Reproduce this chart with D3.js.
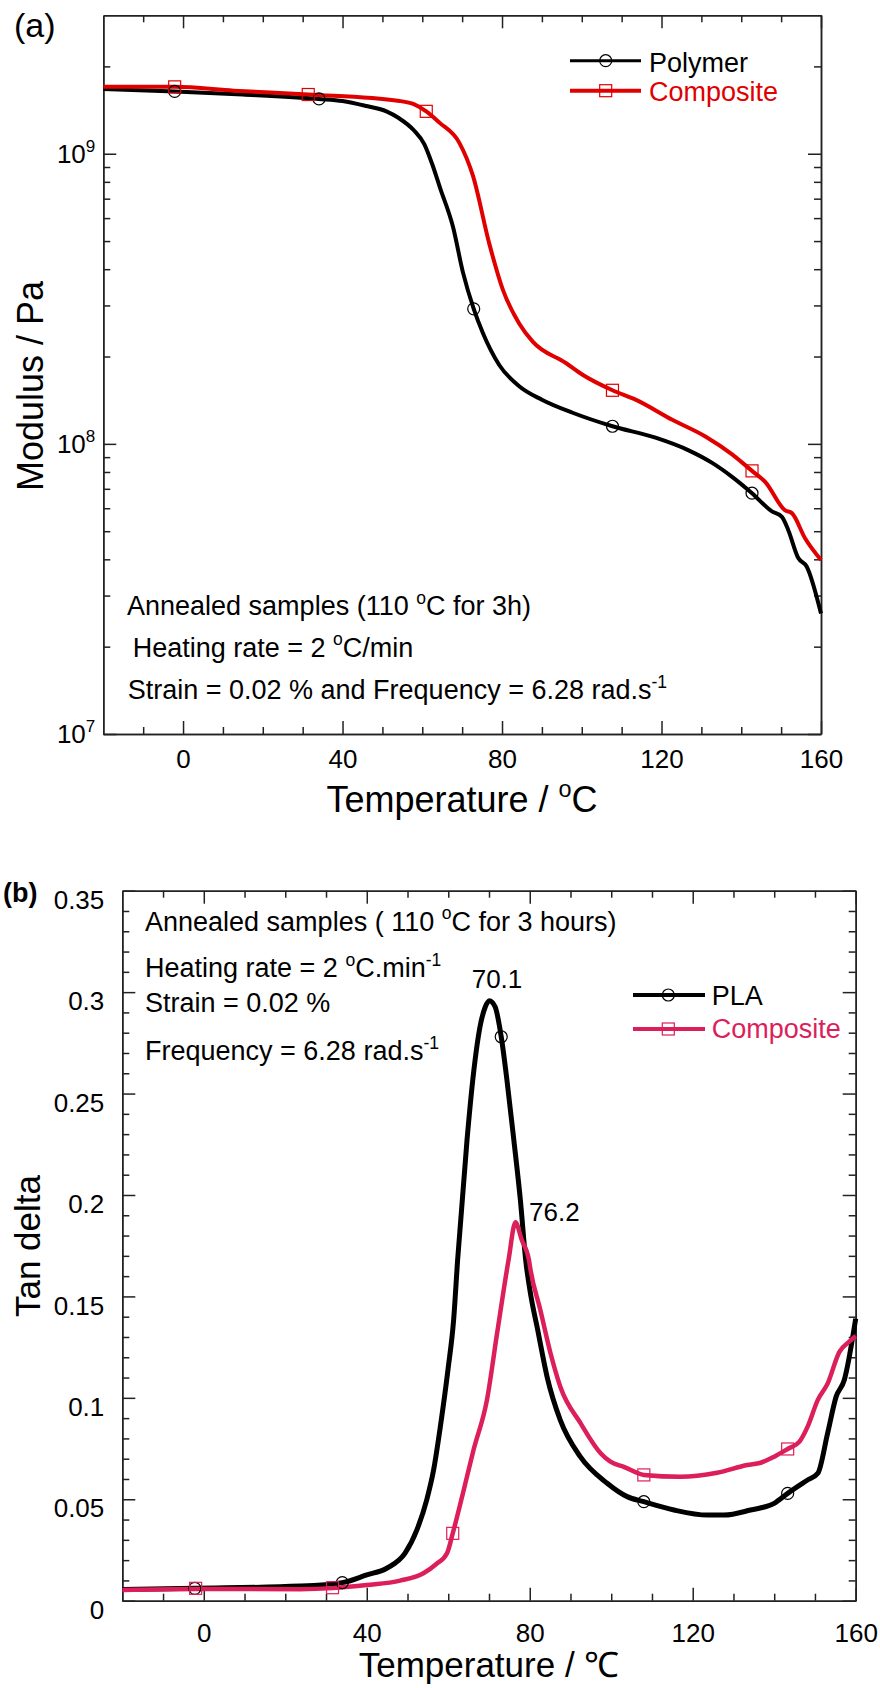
<!DOCTYPE html>
<html>
<head>
<meta charset="utf-8">
<script src="https://cdn.jsdelivr.net/npm/d3@7"></script>
<style>
  body { margin: 0; background: #fff; }
  svg { display: block; font-family: "Liberation Sans", Arial, sans-serif; }
  .axis path, .axis line { stroke: #222; stroke-width: 1.5; }
  .axis text { font-size: 26px; fill: #000; font-family: "Liberation Sans", Arial, sans-serif; }
</style>
</head>
<body>
<svg id="chart" width="880" height="1688"></svg>
<script>
// ---------- data: panel (a) storage modulus ----------
var tempTicks = [0, 40, 80, 120, 160];

var polymerT = [-20, -2, 15, 34, 40, 46, 51, 54, 58, 60.5, 62.5, 64.5, 67.7, 70.2, 72.9, 75.2, 79.3, 84.3, 90, 97.7, 107.7, 118.5, 126.8, 132.7, 137.7, 142.7, 147.7, 150.2, 151.8, 154.3, 156.4, 160];
var polymerG = [1.67e9, 1.64e9, 1.60e9, 1.545e9, 1.52e9, 1.46e9, 1.40e9, 1.33e9, 1.20e9, 1.08e9, 9.2e8, 7.6e8, 5.6e8, 3.9e8, 2.92e8, 2.41e8, 1.87e8, 1.58e8, 1.42e8, 1.28e8, 1.15e8, 1.05e8, 9.5e7, 8.6e7, 7.7e7, 6.76e7, 5.85e7, 5.6e7, 5.04e7, 4.04e7, 3.78e7, 2.6e7];

var compositeT = [-20, -2, 12.7, 31.4, 54.3, 58, 61, 64.3, 69.3, 72.7, 76.8, 80.2, 84.3, 87.7, 96, 100.2, 107.7, 113.5, 122.7, 131, 137.7, 142.7, 146, 151, 152.7, 156, 160];
var compositeG = [1.70e9, 1.70e9, 1.65e9, 1.60e9, 1.52e9, 1.48e9, 1.40e9, 1.28e9, 1.09e9, 8.4e8, 4.9e8, 3.4e8, 2.6e8, 2.25e8, 1.9e8, 1.73e8, 1.53e8, 1.42e8, 1.21e8, 1.06e8, 9.2e7, 8.07e7, 7.4e7, 5.9e7, 5.77e7, 4.73e7, 3.98e7];

var polymerMarkT = [-2.1, 34.1, 72.9, 107.7, 142.7];
var polymerMarkG = [1.64e9, 1.545e9, 2.92e8, 1.15e8, 6.76e7];
var compositeMarkT = [-2.1, 31.4, 61, 107.7, 142.7];
var compositeMarkG = [1.70e9, 1.60e9, 1.40e9, 1.53e8, 8.07e7];

// ---------- data: panel (b) tan delta ----------
var tanTicks = [0, 0.05, 0.1, 0.15, 0.2, 0.25, 0.3, 0.35];

var plaT = [-20, -2.2, 23.6, 34, 40, 44.9, 49.4, 52.3, 54.7, 56.4, 58, 60, 61.3, 62.3, 64.6, 66.2, 67.8, 69.1, 70.1, 71.5, 73, 74.4, 76.1, 77.7, 79, 80.3, 81.8, 84.3, 87.5, 92.4, 99, 103.9, 108, 115.4, 123.6, 127.7, 134.2, 140, 143.3, 148.2, 150.7, 153.1, 155.2, 157.2, 160];
var plaTan = [0.0055, 0.0061, 0.0072, 0.0089, 0.0127, 0.016, 0.0234, 0.0349, 0.0496, 0.0644, 0.085, 0.115, 0.138, 0.168, 0.227, 0.26, 0.283, 0.2928, 0.2958, 0.2928, 0.278, 0.2567, 0.227, 0.1975, 0.168, 0.15, 0.135, 0.110, 0.089, 0.071, 0.0579, 0.0513, 0.0488, 0.0447, 0.0422, 0.0422, 0.0447, 0.048, 0.0529, 0.0595, 0.0628, 0.0825, 0.1006, 0.1088, 0.139];

var compT = [-20, -2, 23.6, 31.6, 40, 48.2, 53.9, 57, 59.7, 61.1, 63.8, 66.2, 69.5, 72, 74.8, 76.5, 78, 79.8, 80.2, 82.6, 85.1, 87.5, 92.5, 97.4, 99.8, 103.1, 108, 117, 126, 133.4, 136.7, 140, 143.3, 146.2, 148.2, 150.7, 153.1, 156, 158.4, 160];
var compTan = [0.0053, 0.0058, 0.0057, 0.0062, 0.0077, 0.0099, 0.0135, 0.018, 0.0234, 0.0332, 0.0546, 0.0743, 0.099, 0.132, 0.168, 0.1865, 0.178, 0.168, 0.163, 0.1433, 0.122, 0.1055, 0.0874, 0.0727, 0.0685, 0.066, 0.062, 0.0611, 0.0631, 0.0669, 0.068, 0.071, 0.0748, 0.0784, 0.0858, 0.099, 0.107, 0.1227, 0.1277, 0.1305];

var plaMarkT = [-2.2, 34, 73, 108, 143.3];
var plaMarkTan = [0.0061, 0.0089, 0.278, 0.0488, 0.0529];
var compMarkT = [-2, 31.6, 61.1, 108, 143.3];
var compMarkTan = [0.0061, 0.0064, 0.0332, 0.062, 0.0748];

var red = "#e00000", pink = "#dc1e5a";

var svg = d3.select("#chart");

// text with superscript parts: [[string, isSup], ...]
function richText(x, y, size, parts, color, anchor) {
  var t = svg.append("text").attr("x", x).attr("y", y)
    .attr("font-size", size).attr("fill", color || "#000")
    .attr("text-anchor", anchor || "start");
  var up = 0;
  parts.forEach(function(p) {
    var s = t.append("tspan").text(p[0]);
    if (p[1] && !up) { s.attr("font-size", size * 0.65).attr("dy", -size * 0.42); up = 1; }
    else if (!p[1] && up) { s.attr("dy", size * 0.42); up = 0; }
  });
  return t;
}

// frame with inward ticks on four sides
function frame(x, y, xMinor, yMajor, yMinor, xPad, yPad) {
  var x0 = x.range()[0], x1 = x.range()[1], y0 = y.range()[0], y1 = y.range()[1];
  var g = svg.append("g");

  g.append("g").attr("class", "axis").attr("transform", "translate(0," + y0 + ")")
    .call(d3.axisBottom(x).tickValues(tempTicks).tickSizeInner(-13).tickSizeOuter(0).tickPadding(xPad));
  g.append("g").attr("class", "axis").attr("transform", "translate(0," + y0 + ")")
    .call(d3.axisBottom(x).tickValues(xMinor).tickSizeInner(-7).tickSizeOuter(0).tickFormat(""));
  g.append("g").attr("class", "axis").attr("transform", "translate(0," + y1 + ")")
    .call(d3.axisTop(x).tickValues(tempTicks).tickSizeInner(-13).tickSizeOuter(0).tickFormat(""));
  g.append("g").attr("class", "axis").attr("transform", "translate(0," + y1 + ")")
    .call(d3.axisTop(x).tickValues(xMinor).tickSizeInner(-7).tickSizeOuter(0).tickFormat(""));

  var left = g.append("g").attr("class", "axis").attr("transform", "translate(" + x0 + ",0)")
    .call(d3.axisLeft(y).tickValues(yMajor).tickSizeInner(-13).tickSizeOuter(0).tickPadding(yPad).tickFormat(""));
  g.append("g").attr("class", "axis").attr("transform", "translate(" + x0 + ",0)")
    .call(d3.axisLeft(y).tickValues(yMinor).tickSizeInner(-7).tickSizeOuter(0).tickFormat(""));
  g.append("g").attr("class", "axis").attr("transform", "translate(" + x1 + ",0)")
    .call(d3.axisRight(y).tickValues(yMajor).tickSizeInner(-13).tickSizeOuter(0).tickFormat(""));
  g.append("g").attr("class", "axis").attr("transform", "translate(" + x1 + ",0)")
    .call(d3.axisRight(y).tickValues(yMinor).tickSizeInner(-7).tickSizeOuter(0).tickFormat(""));
  return left;
}

function series(x, y, T, V, color, width) {
  var line = d3.line().x(function(d) { return x(d[0]); }).y(function(d) { return y(d[1]); })
    .curve(d3.curveMonotoneX);
  svg.append("path").datum(d3.zip(T, V))
    .attr("d", line).attr("fill", "none").attr("stroke", color)
    .attr("stroke-width", width).attr("stroke-linejoin", "round");
}

function circles(x, y, T, V, color) {
  svg.append("g").selectAll("circle").data(d3.zip(T, V)).enter().append("circle")
    .attr("cx", function(d) { return x(d[0]); }).attr("cy", function(d) { return y(d[1]); })
    .attr("r", 6).attr("fill", "none").attr("stroke", color).attr("stroke-width", 1.2);
}

function squares(x, y, T, V, color) {
  svg.append("g").selectAll("rect").data(d3.zip(T, V)).enter().append("rect")
    .attr("x", function(d) { return x(d[0]) - 6; }).attr("y", function(d) { return y(d[1]) - 6; })
    .attr("width", 12).attr("height", 12).attr("fill", "none").attr("stroke", color).attr("stroke-width", 1.2);
}

// ================= panel (a) =================
var xA = d3.scaleLinear().domain([-20, 160]).range([103.3, 821]);
var yA = d3.scaleLog().domain([1e7, 3e9]).range([734, 15.3]);

var tempMinor = d3.range(-10, 160, 10).filter(function(d) { return tempTicks.indexOf(d) < 0; });
var decades = [1e7, 1e8, 1e9];
var modMinor = [];
decades.forEach(function(d) { d3.range(2, 10).forEach(function(m) { if (d * m < 3e9) modMinor.push(d * m); }); });

var leftA = frame(xA, yA, tempMinor, decades, modMinor, 16, 8);
leftA.selectAll(".tick text").each(function(d) {
  var t = d3.select(this);
  t.append("tspan").text("10");
  t.append("tspan").attr("font-size", 17).attr("dy", -11).text(Math.round(Math.log10(d)));
});

series(xA, yA, polymerT, polymerG, "#000", 4);
series(xA, yA, compositeT, compositeG, red, 4);
circles(xA, yA, polymerMarkT, polymerMarkG, "#000");
squares(xA, yA, compositeMarkT, compositeMarkG, red);

// legend (a)
svg.append("line").attr("x1", 570).attr("x2", 641).attr("y1", 60.7).attr("y2", 60.7).attr("stroke", "#000").attr("stroke-width", 3);
svg.append("circle").attr("cx", 605.7).attr("cy", 60.7).attr("r", 6).attr("fill", "none").attr("stroke", "#000").attr("stroke-width", 1.2);
svg.append("line").attr("x1", 570).attr("x2", 641).attr("y1", 90.7).attr("y2", 90.7).attr("stroke", red).attr("stroke-width", 4);
svg.append("rect").attr("x", 599.7).attr("y", 84.7).attr("width", 12).attr("height", 12).attr("fill", "none").attr("stroke", red).attr("stroke-width", 1.2);
richText(649, 71.7, 27, [["Polymer", 0]]);
richText(649, 101, 27, [["Composite", 0]], red);

// annotations (a)
richText(127, 615, 27, [["Annealed samples (110 ", 0], ["o", 1], ["C for 3h)", 0]]);
richText(132.7, 656.7, 27, [["Heating rate = 2 ", 0], ["o", 1], ["C/min", 0]]);
richText(127.7, 699.3, 27, [["Strain = 0.02 % and Frequency = 6.28 rad.s", 0], ["-1", 1]]);

// labels (a)
svg.append("text").attr("x", 14).attr("y", 37).attr("font-size", 34).text("(a)");
richText(462, 812, 36, [["Temperature / ", 0], ["o", 1], ["C", 0]], "#000", "middle");
svg.append("text").attr("transform", "translate(43,386) rotate(-90)")
  .attr("text-anchor", "middle").attr("font-size", 36).text("Modulus / Pa");

// ================= panel (b) =================
var xB = d3.scaleLinear().domain([-20, 160]).range([122.3, 855.7]);
var yB = d3.scaleLinear().domain([0, 0.35]).range([1600.7, 890.7]);

var tanMinor = d3.range(1, 35).filter(function(i) { return i % 5 !== 0; }).map(function(i) { return i / 100; });

var leftB = frame(xB, yB, tempMinor, tanTicks, tanMinor, 22.5, 18);
leftB.selectAll(".tick text").attr("dy", "0.68em").text(function(d) { return String(+d.toFixed(2)); });

series(xB, yB, plaT, plaTan, "#000", 5);
series(xB, yB, compT, compTan, pink, 4.5);
circles(xB, yB, plaMarkT, plaMarkTan, "#000");
squares(xB, yB, compMarkT, compMarkTan, pink);

// legend (b)
svg.append("line").attr("x1", 633).attr("x2", 705).attr("y1", 995).attr("y2", 995).attr("stroke", "#000").attr("stroke-width", 4);
svg.append("circle").attr("cx", 668.3).attr("cy", 995).attr("r", 6).attr("fill", "none").attr("stroke", "#000").attr("stroke-width", 1.2);
svg.append("line").attr("x1", 633).attr("x2", 705).attr("y1", 1029).attr("y2", 1029).attr("stroke", pink).attr("stroke-width", 4);
svg.append("rect").attr("x", 662.3).attr("y", 1023).attr("width", 12).attr("height", 12).attr("fill", "none").attr("stroke", pink).attr("stroke-width", 1.2);
richText(711.7, 1005, 27, [["PLA", 0]]);
richText(711.7, 1038.3, 27, [["Composite", 0]], pink);

// annotations (b)
richText(145, 930.7, 27, [["Annealed samples ( 110 ", 0], ["o", 1], ["C for 3 hours)", 0]]);
richText(145, 977, 27, [["Heating rate = 2 ", 0], ["o", 1], ["C.min", 0], ["-1", 1]]);
richText(145, 1011.7, 27, [["Strain = 0.02 %", 0]]);
richText(145, 1060, 27, [["Frequency = 6.28 rad.s", 0], ["-1", 1]]);
richText(471.7, 988, 26, [["70.1", 0]]);
richText(529, 1221, 26, [["76.2", 0]]);

// labels (b)
svg.append("text").attr("x", 3).attr("y", 902).attr("font-size", 27).attr("font-weight", "bold").text("(b)");
svg.append("text").attr("x", 489).attr("y", 1676.7).attr("text-anchor", "middle").attr("font-size", 35)
  .text("Temperature / \u2103");
svg.append("text").attr("transform", "translate(40,1246) rotate(-90)")
  .attr("text-anchor", "middle").attr("font-size", 35).text("Tan delta");
</script>
</body>
</html>
